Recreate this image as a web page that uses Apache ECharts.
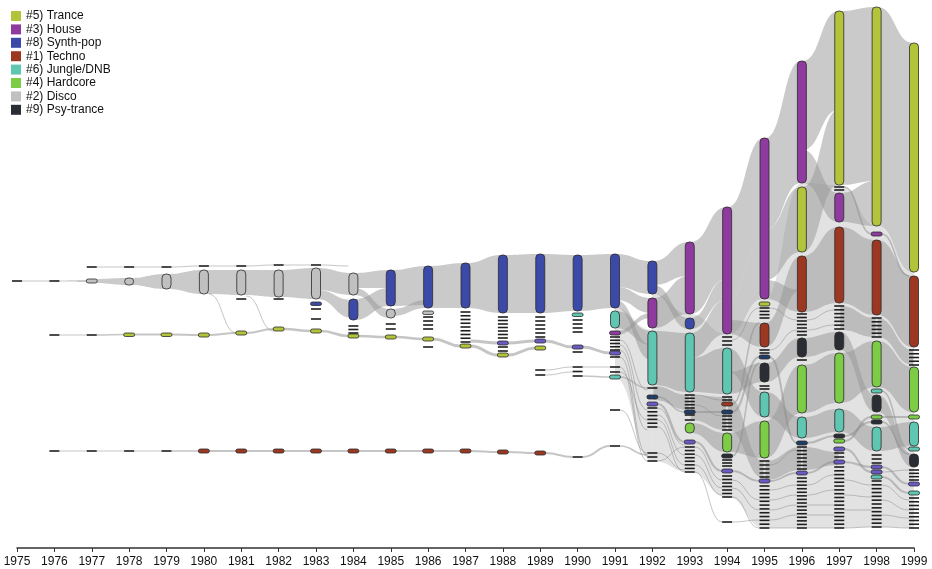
<!DOCTYPE html>
<html>
<head>
<meta charset="utf-8">
<script src="https://cdn.jsdelivr.net/npm/echarts@6/dist/echarts.min.js"></script>
<style>
  html, body { margin: 0; padding: 0; background: #fff; }
  #chart { width: 932px; height: 569px; }
</style>
</head>
<body>
<div id="chart"></div>
<script>
// node = [year, top, bottom] in stack position units (0 = top of the stack)
const tranceNodes = [[1978,333,336],[1979,333,336],[1980,333,337],[1981,331,335],[1982,327,331],[1983,329,333],[1984,334,338],[1985,335,339],[1986,337,341],[1987,344,348],[1988,353,357],[1989,346,350],[1995,302,306],[1996,187,252],[1997,11,185],[1998,7,226],[1999,43,272]]
const houseNodes = [[1991,331,335],[1992,298,328],[1993,242,314],[1994,207,334],[1995,138,299],[1996,61,183],[1997,193,222],[1998,232,236]]
const synthNodes = [[1983,302,305],[1984,299,320],[1985,270,306],[1986,266,308],[1987,263,308],[1988,255,313],[1989,254,313],[1990,255,311],[1991,254,308],[1992,261,294],[1993,318,329]]
const technoNodes = [[1980,449,453],[1981,449,453],[1982,449,453],[1983,449,453],[1984,449,453],[1985,449,453],[1986,449,453],[1987,449,453],[1988,450,454],[1989,451,455],[1994,402,406],[1995,323,347],[1996,256,312],[1997,227,303],[1998,240,315],[1999,276,347]]
const jungleNodes = [[1990,313,316],[1991,311,328],[1991,375,379],[1992,331,385],[1993,333,392],[1994,348,394],[1995,392,417],[1996,417,438],[1997,409,432],[1998,389,393],[1998,427,451],[1998,475,479],[1999,422,446],[1999,447,451],[1999,491,495]]
const hardcoreNodes = [[1993,423,433],[1994,433,452],[1995,421,458],[1996,365,413],[1997,353,403],[1997,439,443],[1998,341,387],[1998,415,419],[1999,367,412],[1999,415,419]]
const discoNodes = [[1977,279,283],[1978,278,285],[1979,274,289],[1980,270,294],[1981,270,295],[1982,270,297],[1983,268,299],[1984,273,295],[1985,309,318],[1986,311,314]]
const psyNodes = [[1994,454,458],[1995,363,382],[1996,338,357],[1997,332,350],[1997,434,438],[1998,395,412],[1998,420,424],[1999,454,467]]
const violetNodes = [[1988,341,345],[1989,339,343],[1990,345,349],[1991,351,355],[1992,402,406],[1993,440,444],[1994,469,473],[1995,479,483],[1996,471,475],[1997,447,451],[1997,460,464],[1998,465,469],[1998,470,474],[1999,482,486]]
const navyNodes = [[1992,395,399],[1993,410,414],[1994,410,414],[1995,355,359],[1996,441,445]]

// small unnamed genres: [year, first, last]
const minorStacks = [[1975,281,281],[1976,281,281],[1976,335,335],[1976,451,451],[1977,267,267],[1977,335,335],[1977,451,451],[1978,267,267],[1978,451,451],[1979,267,267],[1979,451,451],[1980,266,266],[1981,266,266],[1981,299,299],[1982,265,265],[1982,299,299],[1983,265,265],[1983,309,309],[1983,319,319],[1984,326,333],[1985,324,329],[1986,317,329],[1986,347,347],[1987,312,342],[1988,317,338],[1988,347,351],[1989,317,337],[1989,370,375],[1990,320,332],[1990,352,352],[1990,367,376],[1990,457,457],[1991,337,350],[1991,357,357],[1991,367,372],[1991,410,410],[1991,446,446],[1992,388,388],[1992,408,427],[1992,453,461],[1993,395,408],[1993,415,420],[1993,447,472],[1994,337,345],[1994,397,400],[1994,416,430],[1994,460,466],[1994,476,497],[1994,522,522],[1995,308,318],[1995,350,353],[1995,386,389],[1995,461,477],[1995,486,528],[1996,314,335],[1996,360,361],[1996,447,469],[1996,478,528],[1997,187,190],[1997,306,329],[1997,453,457],[1997,467,528],[1998,318,337],[1998,455,463],[1998,481,527],[1999,350,365],[1999,470,480],[1999,498,528]]

// flows: [fromYear, fromTop, fromBottom, toTop, toBottom]
const mainFlows = [[1976,280.5,281.5,280,282],[1977,279,283,278,285],[1978,278,285,274,289],[1979,274,289,270,294],[1980,270,294,270,295],[1981,270,295,270,297],[1982,270,297,268,299],[1983,268,290,273,295],[1983,290,299,300,318],[1984,273,288,270,288],[1984,288,295,309,318],[1984,299,320,288,306],[1985,270,306,266,305],[1985,309,316,300,308],[1986,266,308,263,308],[1987,263,308,255,313],[1988,255,313,254,313],[1989,254,313,255,311],[1990,255,311,254,308],
  [1991,254,287,261,294],[1991,287,300,298,313],[1991,300,308,345,360],[1991,311,328,331,345],[1991,331,335,313,318],
  [1992,261,285,242,276],[1992,285,294,318,329],[1992,298,328,276,314],[1992,331,385,333,392],[1992,386,400,395,410],
  [1993,242,314,207,279],[1993,318,329,279,300],[1993,333,358,300,334],[1993,358,392,348,394],[1993,423,433,433,452],[1993,395,420,397,430],
  [1994,207,300,138,240],[1994,300,334,240,299],[1994,320,334,323,347],[1994,348,372,392,417],[1994,372,394,363,382],[1994,433,452,421,458],[1994,397,430,461,478],
  [1995,138,230,61,183],[1995,230,280,187,252],[1995,280,299,290,312],[1995,323,347,256,290],[1995,363,382,338,357],[1995,392,417,417,438],[1995,421,458,365,413],[1995,461,480,447,470],
  [1996,61,150,11,110],[1996,187,252,110,185],[1996,150,183,193,222],[1996,256,312,227,303],[1996,338,357,332,350],[1996,365,413,353,403],[1996,417,438,409,432],[1996,447,470,452,465],
  [1997,11,185,7,181],[1997,193,222,181,226],[1997,227,303,240,315],[1997,332,350,395,412],[1997,353,403,341,387],[1997,409,432,427,451],[1997,306,330,318,337],
  [1998,7,226,43,272],[1998,240,315,276,347],[1998,341,387,367,412],[1998,395,412,454,467],[1998,427,451,422,446],[1998,318,337,350,365]]
const faintFlows = [[1991,308,378,330,461],[1992,294,461,314,472],[1993,314,472,334,497],[1994,334,497,299,528],[1995,299,528,183,528],[1996,183,528,185,528],[1997,185,528,226,527],[1998,226,527,272,528]]

// single thin links: [fromYear, fromY, toY, width]
const threads = [[1975,281,281,1],[1976,335,335,1],[1976,451,451,1],[1977,335,334.5,1.5],[1978,334.5,334.5,2],[1979,334.5,335,2],[1980,335,333,2],[1981,333,329,2],[1982,329,331,2.5],[1983,331,336,2.5],[1984,336,337,2.5],[1985,337,339,2.5],[1986,339,346,3],[1987,346,355,3],[1988,355,348,3],
  [1977,451,451,1],[1978,451,451,1],[1979,451,451,1.5],[1980,451,451,2],[1981,451,451,2],[1982,451,451,2],[1983,451,451,2],[1984,451,451,2],[1985,451,451,2],[1986,451,451,2],[1987,451,452,2],[1988,452,453,2],[1989,453,457,2],[1990,457,446,2],[1991,446,455,1.5],
  [1977,267,267,1],[1978,267,267,1],[1979,267,266,1],[1980,266,266,1],[1981,266,265,1],[1982,265,265,1],[1983,265,266,1],[1981,296,331,1],[1980,294,333,1],
  [1987,341,343,3],[1988,343,341,3],[1989,341,347,3],[1990,347,353,3],[1989,370,367,1],[1989,375,372,1],[1990,367,367,1],[1990,376,377,1.5],
  [1991,340,390,1],[1991,345,410,1],[1991,350,430,1],[1991,357,455,1],[1991,367,461,1],[1991,372,420,1],[1991,377,388,1.5],[1991,410,453,1],
  [1992,408,445,1],[1992,415,455,1],[1992,420,465,1],[1992,427,472,1],[1992,453,470,1],[1992,461,447,1],[1992,397,412,1.5],[1992,404,442,2],
  [1993,395,400,1],[1993,405,416,1],[1993,442,471,2],[1993,447,480,1],[1993,455,488,1],[1993,465,495,1],[1993,472,522,1],[1993,412,412,2],
  [1994,404,323,1.5],[1994,412,357,2],[1994,456,363,1.5],[1994,471,481,2],[1994,480,500,1],[1994,488,510,1],[1994,497,528,1],[1994,522,520,1],[1994,340,308,1],
  [1995,481,473,2],[1995,490,485,1],[1995,500,495,1],[1995,510,505,1],[1995,520,515,1],[1995,528,528,1],[1995,357,443,2],[1995,465,450,1],[1995,308,320,1],[1995,350,330,1],
  [1996,473,462,2],[1996,485,475,1],[1996,495,490,1],[1996,505,505,1],[1996,515,515,1],[1996,528,528,1],[1996,443,436,2],[1996,320,310,1],[1996,330,325,1],
  [1997,462,467,2],[1997,449,472,2],[1997,441,417,2],[1997,436,422,2],[1997,480,485,1],[1997,495,497,1],[1997,510,510,1],[1997,528,527,1],[1997,187,234,1.5],
  [1998,467,484,2],[1998,472,470,1],[1998,477,493,2],[1998,485,500,1],[1998,500,510,1],[1998,515,518,1],[1998,527,528,1],[1998,391,449,1.5],[1998,417,417,2],[1998,422,454,1.5],[1998,234,276,1.5]]

const genres = [
  { name: '#5) Trance', color: '#b3c43a', data: tranceNodes },
  { name: '#3) House', color: '#8f3a9f', data: houseNodes },
  { name: '#8) Synth-pop', color: '#3b4aa8', data: synthNodes },
  { name: '#1) Techno', color: '#9c3822', data: technoNodes },
  { name: '#6) Jungle/DNB', color: '#5ec6b1', data: jungleNodes },
  { name: '#4) Hardcore', color: '#7ccd45', data: hardcoreNodes },
  { name: '#2) Disco', color: '#c0c0c0', data: discoNodes },
  { name: '#9) Psy-trance', color: '#2a2d33', data: psyNodes },
]
const extras = [
  { name: 'minor-violet', color: '#6c5ac4', data: violetNodes },
  { name: 'minor-navy', color: '#1f3d66', data: navyNodes },
]

function renderNode(params, api) {
  const p = api.coord([api.value(0), api.value(1)])
  const yb = api.coord([api.value(0), api.value(2)])[1]
  const h = Math.max(yb - p[1], 3.5)
  const w = h < 7 ? 11 : 9
  return {
    type: 'rect',
    shape: { x: p[0] - w / 2, y: p[1], width: w, height: h, r: Math.min(4, h / 2) },
    style: { fill: api.visual('color'), stroke: '#2b2b2b', lineWidth: 0.8 },
  }
}

function flowRenderer(fill, inset) {
  return function (params, api) {
    const yr = api.value(0)
    const a0 = api.coord([yr, api.value(1)])
    const a1 = api.coord([yr, api.value(2)])
    const b0 = api.coord([yr + 1, api.value(3)])
    const b1 = api.coord([yr + 1, api.value(4)])
    const x0 = a0[0] + inset
    const x1 = b0[0] - inset
    const xm = (x0 + x1) / 2
    const d = 'M' + x0 + ',' + a0[1] + ' C' + xm + ',' + a0[1] + ' ' + xm + ',' + b0[1] + ' ' + x1 + ',' + b0[1] +
      ' L' + x1 + ',' + b1[1] + ' C' + xm + ',' + b1[1] + ' ' + xm + ',' + a1[1] + ' ' + x0 + ',' + a1[1] + ' Z'
    return { type: 'path', shape: { pathData: d }, style: { fill: fill } }
  }
}

function renderThread(params, api) {
  const yr = api.value(0)
  const a = api.coord([yr, api.value(1)])
  const b = api.coord([yr + 1, api.value(2)])
  const xm = (a[0] + b[0]) / 2
  return {
    type: 'bezierCurve',
    shape: { x1: a[0] + 5, y1: a[1], x2: b[0] - 5, y2: b[1], cpx1: xm, cpy1: a[1], cpx2: xm, cpy2: b[1] },
    style: { stroke: 'rgba(140,140,140,0.5)', lineWidth: api.value(3), fill: null },
  }
}

function renderStack(params, api) {
  const top = api.coord([api.value(0), api.value(1)])
  const bot = api.coord([api.value(0), api.value(2)])
  const n = Math.round((bot[1] - top[1]) / 3.7) + 1
  const step = n > 1 ? (bot[1] - top[1]) / (n - 1) : 0
  const children = []
  for (let i = 0; i < n; i++) {
    const y = top[1] + i * step
    children.push({
      type: 'line',
      shape: { x1: top[0] - 5, y1: y, x2: top[0] + 5, y2: y },
      style: { stroke: '#1e1e1e', lineWidth: 1.6 },
    })
  }
  return { type: 'group', children: children }
}

const chart = echarts.init(document.getElementById('chart'))
chart.setOption({
  animation: false,
  backgroundColor: '#fff',
  grid: { left: 17, right: 18, top: 0, bottom: 21 },
  legend: {
    left: 11, top: 10, padding: 0, orient: 'vertical', icon: 'rect',
    itemWidth: 10, itemHeight: 10, itemGap: 1.4, selectedMode: false,
    data: genres.map((g) => g.name),
    textStyle: { fontFamily: 'Liberation Sans, Arial, sans-serif', fontSize: 12, color: '#111' },
  },
  xAxis: {
    type: 'value', min: 1975, max: 1999, interval: 1, position: 'bottom',
    splitLine: { show: false },
    axisLine: { onZero: false, lineStyle: { color: '#333', width: 1.5 } },
    axisTick: { length: 4, lineStyle: { color: '#333' } },
    axisLabel: { formatter: (v) => String(v), margin: 8, fontSize: 12, color: '#111', fontFamily: 'Liberation Sans, Arial, sans-serif' },
  },
  yAxis: { type: 'value', min: 0, max: 548, inverse: true, show: false },
  series: [
    { type: 'custom', name: 'faint', z: 1, silent: true, renderItem: flowRenderer('rgba(165,165,165,0.32)', 0), data: faintFlows },
    { type: 'custom', name: 'flows', z: 2, silent: true, renderItem: flowRenderer('rgba(150,150,150,0.5)', 1), data: mainFlows },
    { type: 'custom', name: 'threads', z: 3, silent: true, renderItem: renderThread, data: threads },
    { type: 'custom', name: 'minor', z: 4, silent: true, renderItem: renderStack, data: minorStacks },
    ...extras.concat(genres).map((g) => ({
      type: 'custom', name: g.name, z: 5, silent: true,
      itemStyle: { color: g.color },
      renderItem: renderNode,
      data: g.data,
    })),
  ],
})
</script>
</body>
</html>
